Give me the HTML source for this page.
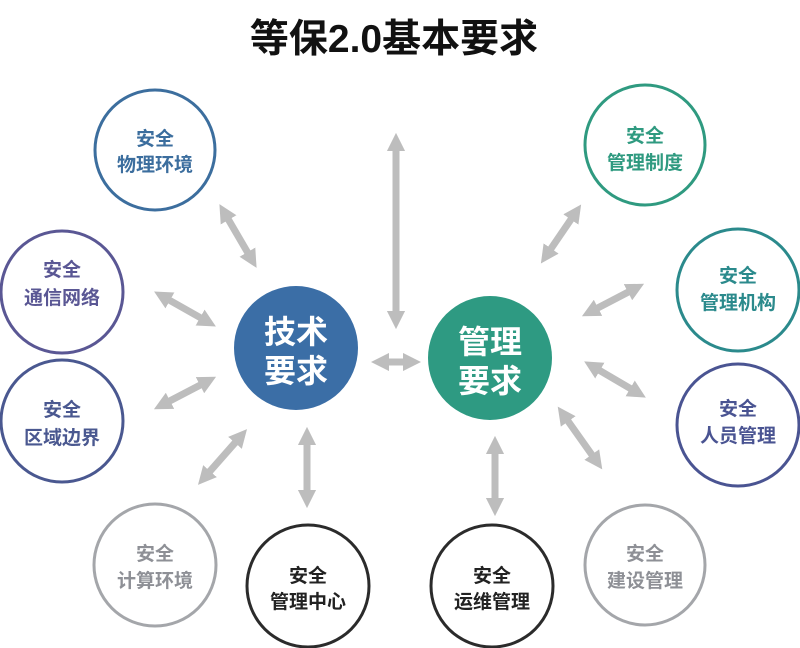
<!DOCTYPE html>
<html><head><meta charset="utf-8"><style>
body{margin:0;background:#fff}
svg{display:block}
text{font-family:"Liberation Sans","Noto Sans CJK SC",sans-serif;font-weight:bold;text-anchor:middle}
</style></head><body>
<svg width="800" height="648" viewBox="0 0 800 648">
<defs>
<marker id="a" viewBox="0 0 10 10" refX="5" refY="5" markerWidth="2.6" markerHeight="2.6" orient="auto-start-reverse" markerUnits="strokeWidth">
<polygon points="0,0 10,5 0,10" fill="#bdbdbd"/></marker>
</defs>
<text x="394" y="52" font-size="39" fill="#111">等保2.0基本要求</text>
<g stroke="#bdbdbd" stroke-width="7" marker-start="url(#a)" marker-end="url(#a)">
<line x1="396" y1="142" x2="396" y2="320"/>
<line x1="380" y1="362" x2="412" y2="362"/>
<line x1="224" y1="212" x2="252" y2="260"/>
<line x1="162" y1="296" x2="208" y2="322"/>
<line x1="162" y1="405" x2="208" y2="381"/>
<line x1="204" y1="478" x2="241" y2="436"/>
<line x1="307" y1="436" x2="307" y2="499"/>
<line x1="495" y1="445" x2="495" y2="507"/>
<line x1="576" y1="212" x2="546" y2="256"/>
<line x1="636" y1="288" x2="590" y2="312"/>
<line x1="592" y1="366" x2="638" y2="393"/>
<line x1="563" y1="414" x2="597" y2="462"/>
</g>
<g fill="none" stroke-width="3">
<circle cx="155" cy="150" r="60" stroke="#3c6e9e"/>
<circle cx="62" cy="292" r="61" stroke="#5a5794"/>
<circle cx="62" cy="421" r="61" stroke="#4a5890"/>
<circle cx="155" cy="565" r="61" stroke="#a4a6aa"/>
<circle cx="308" cy="586" r="61" stroke="#2b2b2b"/>
<circle cx="492" cy="586" r="61" stroke="#2b2b2b"/>
<circle cx="645" cy="565" r="60" stroke="#a4a6aa"/>
<circle cx="738" cy="425" r="61" stroke="#4a5492"/>
<circle cx="738" cy="290" r="61" stroke="#2b8a8c"/>
<circle cx="645" cy="145" r="60" stroke="#2f9a80"/>
</g>
<circle cx="296" cy="348" r="62" fill="#3b6ea6"/>
<circle cx="490" cy="358" r="62" fill="#2e9a82"/>
<g font-size="32" fill="#fff">
<text x="296" y="343">技术</text><text x="296" y="382">要求</text>
<text x="490" y="353">管理</text><text x="490" y="392">要求</text>
</g>
<g font-size="19">
<text x="155" y="145" fill="#3c6e9e">安全</text><text x="155" y="171" fill="#3c6e9e">物理环境</text>
<text x="62" y="276" fill="#5a5794">安全</text><text x="62" y="304" fill="#5a5794">通信网络</text>
<text x="62" y="416" fill="#4a5890">安全</text><text x="62" y="444" fill="#4a5890">区域边界</text>
<text x="155" y="560" fill="#8e9096">安全</text><text x="155" y="587" fill="#8e9096">计算环境</text>
<text x="308" y="582" fill="#222">安全</text><text x="308" y="608" fill="#222">管理中心</text>
<text x="492" y="582" fill="#222">安全</text><text x="492" y="608" fill="#222">运维管理</text>
<text x="645" y="560" fill="#8e9096">安全</text><text x="645" y="587" fill="#8e9096">建设管理</text>
<text x="738" y="415" fill="#4a5492">安全</text><text x="738" y="442" fill="#4a5492">人员管理</text>
<text x="738" y="282" fill="#2b8a8c">安全</text><text x="738" y="309" fill="#2b8a8c">管理机构</text>
<text x="645" y="142" fill="#2f9a80">安全</text><text x="645" y="169" fill="#2f9a80">管理制度</text>
</g>
</svg>
</body></html>
